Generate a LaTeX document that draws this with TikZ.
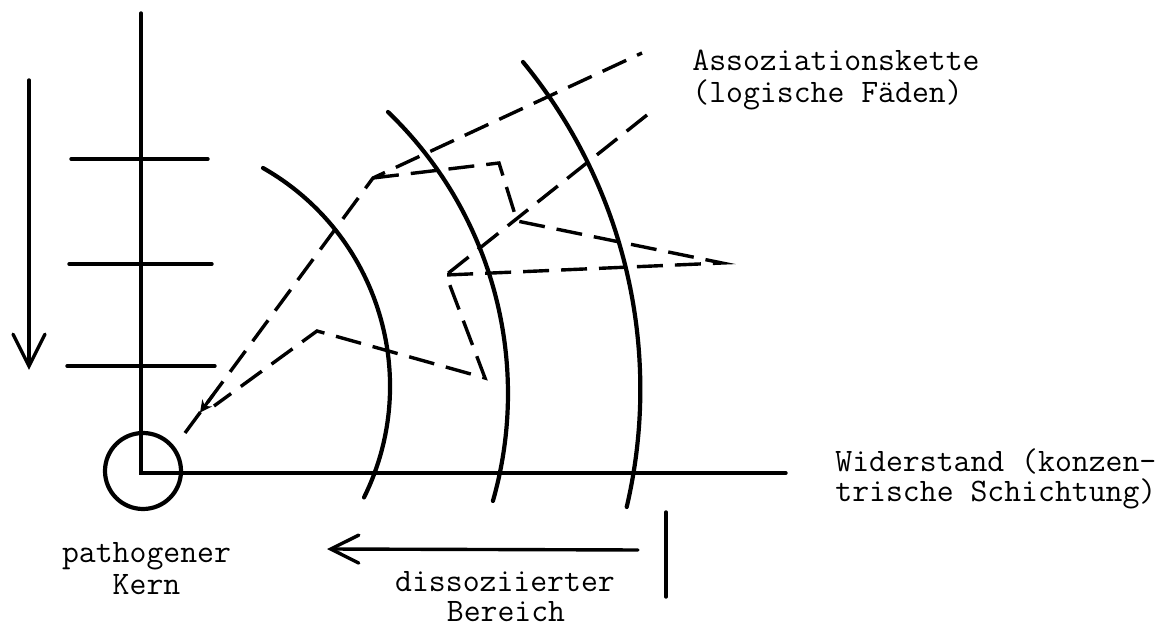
\documentclass[tikz,border=0pt]{standalone}
\usepackage{fontspec}
\usetikzlibrary{arrows.meta,calc}
\begin{document}
\begin{tikzpicture}[x=0.5pt,y=-0.5pt,
  axis/.style={line width=1.7pt, line cap=round},
  ring/.style={line width=2.1pt, line cap=round},
  chain/.style={line width=1.7pt, dash pattern=on 13pt off 6pt, line join=miter},
  lbl/.style={inner sep=0pt, font=\fontsize{16.4pt}{15.5pt}\selectfont\ttfamily},
  bigarrow/.style={line width=1.7pt, line cap=round, -{Straight Barb[length=16pt,width=16pt,line cap=round]}},
  smallarrow/.style={line width=1.7pt, line cap=round, -{Straight Barb[length=14pt,width=14pt,line cap=round]}}
]
\fill[white] (0,0) rectangle (1168,630);
\useasboundingbox (0,0) rectangle (1168,630);

% axes
\coordinate (Ytop) at (141,13);
\coordinate (O) at (141,473);
\coordinate (Xend) at (786,473);
\draw[axis] (Ytop) -- (O) -- (Xend);

% pathogenic core
\node[draw, circle, line width=2.1pt, minimum size=38pt, inner sep=0pt] (kern) at (143,471) {};

% ticks on vertical axis
\coordinate (t1a) at (71,159);  \coordinate (t1b) at (208,159);
\coordinate (t2a) at (69,264);  \coordinate (t2b) at (212,264);
\coordinate (t3a) at (67,366);  \coordinate (t3b) at (215,366);
\draw[axis] (t1a) -- (t1b);
\draw[axis] (t2a) -- (t2b);
\draw[axis] (t3a) -- (t3b);

% downward arrow
\coordinate (dA) at (29,80);
\coordinate (dB) at (29,370);
\draw[bigarrow] (dA) -- (dB);

% concentric layers (arcs)
\draw[ring] (263,168) arc[start angle=-60.4, end angle=26.3, radius=251];
\draw[ring] (388,112) arc[start angle=-46.15, end angle=15.96, radius=390.5];
\draw[ring] (523,62) arc[start angle=-39.44, end angle=13.2, radius=515.3];

% association chain (dashed)
\coordinate (c0) at (185,433);
\coordinate (a)  at (373,178);
\coordinate (tA) at (642,53);
\coordinate (b)  at (499,163);
\coordinate (d)  at (517,221);
\coordinate (e)  at (722,263);
\coordinate (f)  at (446,275);
\coordinate (tB) at (647,115);
\coordinate (g)  at (485,378);
\coordinate (h)  at (317,331);
\coordinate (c1) at (214,406);
\draw[chain] (c0) -- (a) -- (tA);
\draw[chain] (a) -- (b) -- (d) -- (e) -- (f) -- (g) -- (h) -- (c1);
\draw[chain] (tB) -- (f);
\draw[line width=1.6pt, -{Stealth[length=6pt,width=6pt]}] ($(c0)!0.15!(a)$) -- ($(c0)!0.08!(a)$);

% dissociated region arrow and bar
\coordinate (lA) at (638,550);
\coordinate (lB) at (327,549);
\draw[smallarrow] (lA) -- (lB);
\coordinate (bA) at (666,512);
\coordinate (bB) at (666,597);
\draw[axis] (bA) -- (bB);

% labels
\node[lbl, anchor=base west] (ass1) at (692,71) {Assoziationskette};
\node[lbl, anchor=base west] (ass2) at (692,103) {(logische Fäden)};
\node[lbl, anchor=base west] (wid1) at (835,472) {Widerstand (konzen-};
\node[lbl, anchor=base west] (wid2) at (835,502) {trische Schichtung)};
\node[lbl, anchor=base] (pat1) at (146.5,563) {pathogener};
\node[lbl, anchor=base] (pat2) at (146.5,595) {Kern};
\node[lbl, anchor=base] (dis1) at (505,592) {dissoziierter};
\node[lbl, anchor=base] (dis2) at (506,622) {Bereich};
\end{tikzpicture}
\end{document}
